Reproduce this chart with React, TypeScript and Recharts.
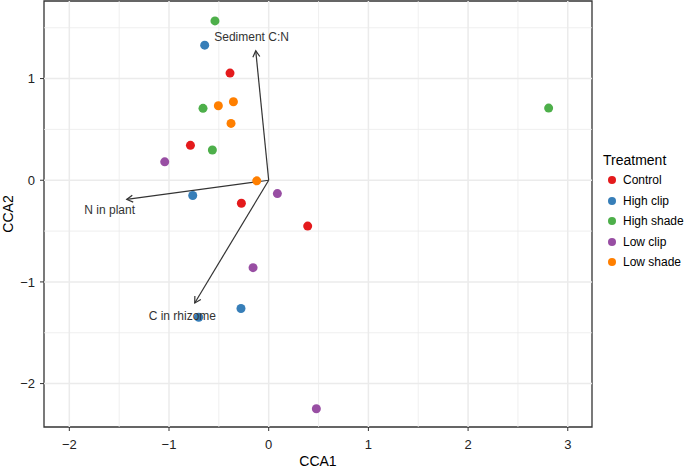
import React from "react";
import {
  ScatterChart,
  Scatter,
  XAxis,
  YAxis,
  ReferenceLine,
  ReferenceArea,
} from "recharts";

// sample scores per treatment
const treatments = ["Control", "High clip", "High shade", "Low clip", "Low shade"];
const treatmentColors = ["#E41A1C", "#377EB8", "#4DAF4A", "#984EA3", "#FF7F00"];

const controlCCA1 = [-0.388, -0.785, -0.274, 0.391];
const controlCCA2 = [1.054, 0.343, -0.226, -0.451];
const highClipCCA1 = [-0.642, -0.762, -0.278, -0.702];
const highClipCCA2 = [1.329, -0.15, -1.262, -1.347];
const highShadeCCA1 = [-0.539, -0.659, -0.565, 2.808];
const highShadeCCA2 = [1.567, 0.707, 0.298, 0.71];
const lowClipCCA1 = [-1.043, 0.087, -0.157, 0.478];
const lowClipCCA2 = [0.181, -0.131, -0.86, -2.247];
const lowShadeCCA1 = [-0.505, -0.354, -0.378, -0.12];
const lowShadeCCA2 = [0.733, 0.772, 0.559, -0.006];

// environmental vectors (biplot arrows)
const envVars = ["Sediment C:N", "N in plant", "C in rhizome"];
const envCCA1 = [-0.13, -1.424, -0.742];
const envCCA2 = [1.273, -0.189, -1.207];
const envLabelCCA1 = [-0.172, -1.595, -0.866];
const envLabelCCA2 = [1.41, -0.29, -1.338];

const xTicks = [-2, -1, 0, 1, 2, 3];
const xMinor = [-1.5, -0.5, 0.5, 1.5, 2.5];
const yTicks = [-2, -1, 0, 1];
const yMinor = [-1.5, -0.5, 0.5, 1.5];
const xDomain: [number, number] = [-2.254, 3.243];
const yDomain: [number, number] = [-2.427, 1.763];

const allCCA1 = [controlCCA1, highClipCCA1, highShadeCCA1, lowClipCCA1, lowShadeCCA1];
const allCCA2 = [controlCCA2, highClipCCA2, highShadeCCA2, lowClipCCA2, lowShadeCCA2];

const series = treatments.map((name, i) => ({
  name,
  color: treatmentColors[i],
  data: allCCA1[i].map((x, j) => ({ x, y: allCCA2[i][j] })),
}));

const labelData = envVars.map((name, i) => ({
  name,
  x: envLabelCCA1[i],
  y: envLabelCCA2[i],
}));

const FONT = "'Liberation Sans', Arial, Helvetica, sans-serif";
const GRID = "#ebebeb";

const fmt = (v: number) => (v < 0 ? `\u2212${Math.abs(v)}` : `${v}`);

// line with an open arrow head at the far end
const ArrowShape = (props: any) => {
  const { x1, y1, x2, y2 } = props;
  const ang = Math.atan2(y2 - y1, x2 - x1);
  const len = 7;
  const spread = Math.PI / 6;
  const ax = x2 - len * Math.cos(ang - spread);
  const ay = y2 - len * Math.sin(ang - spread);
  const bx = x2 - len * Math.cos(ang + spread);
  const by = y2 - len * Math.sin(ang + spread);
  return (
    <g stroke="#333" strokeWidth={1.2} fill="none">
      <line x1={x1} y1={y1} x2={x2} y2={y2} />
      <polyline points={`${ax},${ay} ${x2},${y2} ${bx},${by}`} />
    </g>
  );
};

const EnvLabel = (props: any) => (
  <text
    x={props.cx}
    y={props.cy}
    textAnchor="middle"
    dominantBaseline="central"
    fontSize={12}
    fontFamily={FONT}
    fill="#333"
  >
    {props.payload.name}
  </text>
);

export default function App() {
  return (
    <div style={{ position: "absolute", left: 0, top: 0, width: 685, height: 469, background: "#fff" }}>
      <ScatterChart
        width={685}
        height={469}
        margin={{ top: 1, right: 93, bottom: 0, left: 0 }}
      >
        <XAxis
          type="number"
          dataKey="x"
          domain={xDomain}
          ticks={xTicks}
          allowDataOverflow
          height={42}
          axisLine={false}
          tickLine={{ stroke: "#333" }}
          tickSize={4}
          tickMargin={9}
          tickFormatter={fmt}
          tick={{ fill: "#222", fontSize: 13, fontFamily: FONT }}
          label={{
            content: (p: any) => (
              <text
                x={p.viewBox.x + p.viewBox.width / 2}
                y={p.viewBox.y + p.viewBox.height - 3}
                textAnchor="middle"
                fontSize={14}
                fontFamily={FONT}
                fill="#000"
              >
                CCA1
              </text>
            ),
          }}
        />
        <YAxis
          type="number"
          dataKey="y"
          domain={yDomain}
          ticks={yTicks}
          allowDataOverflow
          width={44}
          axisLine={false}
          tickLine={{ stroke: "#333" }}
          tickSize={4}
          tickMargin={5}
          tickFormatter={fmt}
          tick={{ fill: "#222", fontSize: 13, fontFamily: FONT }}
          label={{
            content: (p: any) => {
              const cx = p.viewBox.x + 8;
              const cy = p.viewBox.y + p.viewBox.height / 2;
              return (
                <text
                  x={cx}
                  y={cy}
                  transform={`rotate(-90 ${cx} ${cy})`}
                  textAnchor="middle"
                  dominantBaseline="central"
                  fontSize={14}
                  fontFamily={FONT}
                  fill="#000"
                >
                  CCA2
                </text>
              );
            },
          }}
        />

        {xMinor.map((v) => (
          <ReferenceLine key={`xm${v}`} x={v} stroke={GRID} strokeWidth={0.8} />
        ))}
        {yMinor.map((v) => (
          <ReferenceLine key={`ym${v}`} y={v} stroke={GRID} strokeWidth={0.8} />
        ))}
        {xTicks.map((v) => (
          <ReferenceLine key={`x${v}`} x={v} stroke={GRID} strokeWidth={1.5} />
        ))}
        {yTicks.map((v) => (
          <ReferenceLine key={`y${v}`} y={v} stroke={GRID} strokeWidth={1.5} />
        ))}

        {series.map((s) => (
          <Scatter
            key={s.name}
            name={s.name}
            data={s.data}
            fill={s.color}
            isAnimationActive={false}
            shape={(p: any) => <circle cx={p.cx} cy={p.cy} r={4.5} fill={s.color} />}
          />
        ))}

        {envVars.map((name, i) => (
          <ReferenceLine
            key={name}
            segment={[
              { x: 0, y: 0 },
              { x: envCCA1[i], y: envCCA2[i] },
            ]}
            shape={ArrowShape}
          />
        ))}
        <Scatter data={labelData} isAnimationActive={false} shape={EnvLabel} />

        <ReferenceArea
          x1={xDomain[0]}
          x2={xDomain[1]}
          y1={yDomain[0]}
          y2={yDomain[1]}
          fill="none"
          stroke="#333"
          strokeWidth={1.3}
          ifOverflow="visible"
        />
      </ScatterChart>

      <div
        style={{
          position: "absolute",
          left: 603,
          top: 153,
          fontFamily: FONT,
          color: "#000",
        }}
      >
        <div style={{ fontSize: 14, height: 17, lineHeight: "15.4px", whiteSpace: "nowrap" }}>
          Treatment
        </div>
        {series.map((s) => (
          <div
            key={s.name}
            style={{
              position: "relative",
              height: 20.5,
              lineHeight: "20.5px",
              fontSize: 12,
              whiteSpace: "nowrap",
              paddingLeft: 20,
            }}
          >
            <span
              style={{
                position: "absolute",
                left: 5.3,
                top: 6.3,
                width: 8,
                height: 8,
                borderRadius: 4,
                background: s.color,
              }}
            />
            {s.name}
          </div>
        ))}
      </div>
    </div>
  );
}
